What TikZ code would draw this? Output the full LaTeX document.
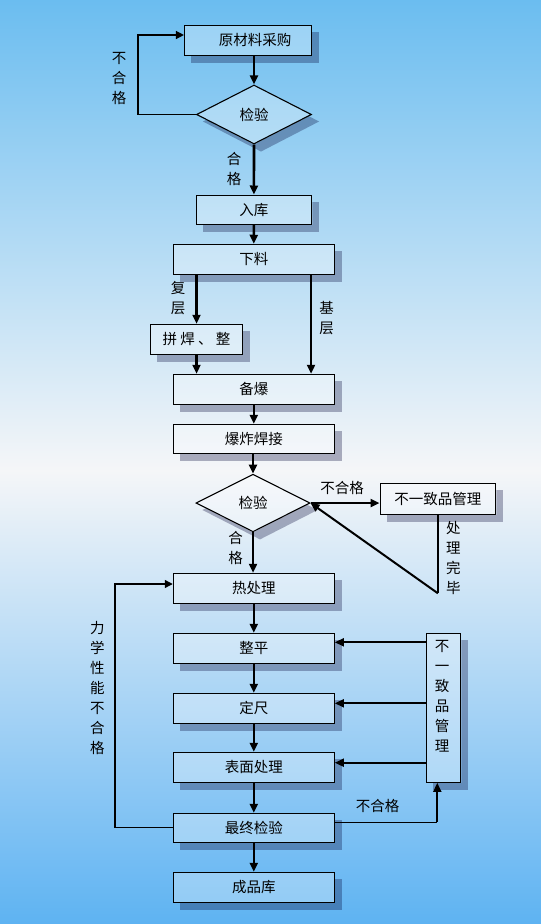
\documentclass[tikz,border=0pt]{standalone}
\usepackage{fontspec}
\setmainfont{Noto Sans CJK SC}
\usetikzlibrary{arrows.meta,shapes.geometric,calc,backgrounds}
\definecolor{bgtop}{HTML}{6BBDF0}
\definecolor{bgmid}{HTML}{F5F6F8}
\definecolor{bgbot}{HTML}{5EB3F2}
\pgfdeclarelayer{bg}
\pgfsetlayers{bg,background,main}
\tikzset{
 box/.style={draw, line width=1.1pt, fill=white, fill opacity=0.3, text opacity=1, inner sep=0pt, font=\fontsize{14.5}{16}\selectfont},
 dia/.style={box, shape=diamond},
 lbl/.style={inner sep=0pt, font=\fontsize{14.5}{20}\selectfont, align=center},
 mainarrow/.style={line width=2.6pt, -{Triangle[length=9pt,width=8pt]}},
 midarrow/.style={line width=2pt, -{Triangle[length=9pt,width=8pt]}},
 fb/.style={line width=1.3pt},
 fba/.style={fb, -{Triangle[length=8pt,width=8pt]}},
 shadowc/.style={fill=black!80!blue, fill opacity=0.3}
}
\newcommand\boxshadow[1]{%
 \begin{scope}[even odd rule]
  \clip (-20,-20) rectangle (580,960) (#1.north west) rectangle (#1.south east);
  \fill[shadowc] ([shift={(7pt,-7pt)}]#1.north west) rectangle ([shift={(7pt,-7pt)}]#1.south east);
 \end{scope}}
\newcommand\diashadow[1]{%
 \begin{scope}[even odd rule]
  \clip (-20,-20) rectangle (580,960) (#1.north) -- (#1.east) -- (#1.south) -- (#1.west) -- cycle;
  \fill[shadowc] ([shift={(7pt,-7pt)}]#1.north) -- ([shift={(7pt,-7pt)}]#1.east) -- ([shift={(7pt,-7pt)}]#1.south) -- ([shift={(7pt,-7pt)}]#1.west) -- cycle;
 \end{scope}}
\begin{document}
\begin{tikzpicture}[x=1pt,y=-1pt]
\useasboundingbox (0,0) rectangle (541,924);
\begin{pgfonlayer}{bg}
\fill[top color=bgtop,bottom color=bgmid] (0,0) rectangle (541,471);
\fill[top color=bgmid,bottom color=bgbot] (0,470) rectangle (541,924);
\end{pgfonlayer}

% nodes
\node[box, minimum width=127pt, minimum height=30pt] (n1) at (248,40.3) {\hspace*{14pt}原材料采购};
\node[dia, minimum width=115pt, minimum height=59pt] (d1) at (254,114.5) {检验};
\node[box, minimum width=115.7pt, minimum height=29.3pt] (n2) at (253.9,209.7) {入库};
\node[box, minimum width=161pt, minimum height=30pt] (n3) at (253.8,259.3) {下料};
\node[box, minimum width=91.6pt, minimum height=30pt] (n4) at (196.5,339.3) {拼 焊 、 整};
\node[box, minimum width=161pt, minimum height=30pt] (n5) at (253.8,389.3) {备爆};
\node[box, minimum width=161pt, minimum height=29pt] (n6) at (253.8,438.8) {爆炸焊接};
\node[dia, minimum width=114pt, minimum height=57.7pt] (d2) at (253,503) {检验};
\node[box, minimum width=115.7pt, minimum height=31pt] (n7) at (437.9,498.8) {不一致品管理};
\node[box, minimum width=161pt, minimum height=30pt] (n8) at (253.8,588.3) {热处理};
\node[box, minimum width=161pt, minimum height=30pt] (n9) at (253.8,648.3) {整平};
\node[box, minimum width=161pt, minimum height=30pt] (n10) at (253.8,708.3) {定尺};
\node[box, minimum width=161pt, minimum height=30pt] (n11) at (253.8,767.3) {表面处理};
\node[box, minimum width=161pt, minimum height=29pt] (n12) at (253.8,827.8) {最终检验};
\node[box, minimum width=161pt, minimum height=30pt] (n13) at (253.8,887.3) {成品库};
\node[box, minimum width=34pt, minimum height=149pt] (n14) at (443.7,707.8) {};
\node[lbl] (t14) at (442,696) {不\\一\\致\\品\\管\\理};

% shadows
\begin{pgfonlayer}{background}
\boxshadow{n1}\diashadow{d1}\boxshadow{n2}\boxshadow{n3}\boxshadow{n4}
\boxshadow{n5}\boxshadow{n6}\diashadow{d2}\boxshadow{n7}\boxshadow{n8}
\boxshadow{n9}\boxshadow{n10}\boxshadow{n11}\boxshadow{n12}\boxshadow{n13}
\boxshadow{n14}
\end{pgfonlayer}

% coordinates
\coordinate (c1) at (138,114.5);
\coordinate (c2) at (138,35);
\coordinate (r1) at (437.9,593.3);
\coordinate (l1) at (115,827.8);
\coordinate (l2) at (115,584);
\coordinate (q1) at (437.3,822.3);

% connectors
\draw[mainarrow] (n1.south -| d1.north) -- (d1.north);
\draw[fba] (d1.west) -- (c1) -- (c2) -- (n1.west |- c2);
\draw[mainarrow] (d1.south) -- (n2.north);
\draw[mainarrow] (n2.south) -- (n3.north);
\draw[mainarrow] (n4.north |- n3.south) -- (n4.north);
\draw[mainarrow] ($(n3.south)+(57.2,0)$) -- ($(n5.north)+(57.2,0)$);
\draw[mainarrow] (n4.south) -- (n4.south |- n5.north);
\draw[mainarrow] (n5.south) -- (n6.north);
\draw[mainarrow] (n6.south -| d2.north) -- (d2.north);
\draw[mainarrow] (d2.east) -- (d2.east -| n7.west);
\draw[fb] (n7.south) -- (r1);
\draw[midarrow] (r1) -- (d2.east);
\draw[mainarrow] (d2.south) -- (d2.south |- n8.north);
\draw[mainarrow] (n8.south) -- (n9.north);
\draw[mainarrow] (n9.south) -- (n10.north);
\draw[mainarrow] (n10.south) -- (n11.north);
\draw[mainarrow] (n11.south) -- (n12.north);
\draw[mainarrow] (n12.south) -- (n13.north);
\draw[midarrow] ($(n14.west |- n9.east)+(0,-6)$) -- ($(n9.east)+(0,-6)$);
\draw[midarrow] ($(n14.west |- n10.east)+(0,-5)$) -- ($(n10.east)+(0,-5)$);
\draw[midarrow] ($(n14.west |- n11.east)+(0,-4.6)$) -- ($(n11.east)+(0,-4.6)$);
\draw[fba] (n12.west) -- (l1) -- (l2) -- (n8.west |- l2);
\draw[fb] (n12.east |- q1) -- (q1);
\draw[midarrow] (q1) -- (q1 |- n14.south);

% labels
\node[lbl] (a1) at (119,78.5) {不\\合\\格};
\node[lbl] (a2) at (234,169) {合\\格};
\node[lbl] (a3) at (178,298) {复\\层};
\node[lbl] (a4) at (326.7,318.5) {基\\层};
\node[lbl] (a5) at (342,488) {不合格};
\node[lbl] (a6) at (453.3,557.5) {处\\理\\完\\毕};
\node[lbl] (a7) at (235.7,548) {合\\格};
\node[lbl] (a8) at (97.3,688) {力\\学\\性\\能\\不\\合\\格};
\node[lbl] (a9) at (377.7,805.7) {不合格};
\end{tikzpicture}
\end{document}
